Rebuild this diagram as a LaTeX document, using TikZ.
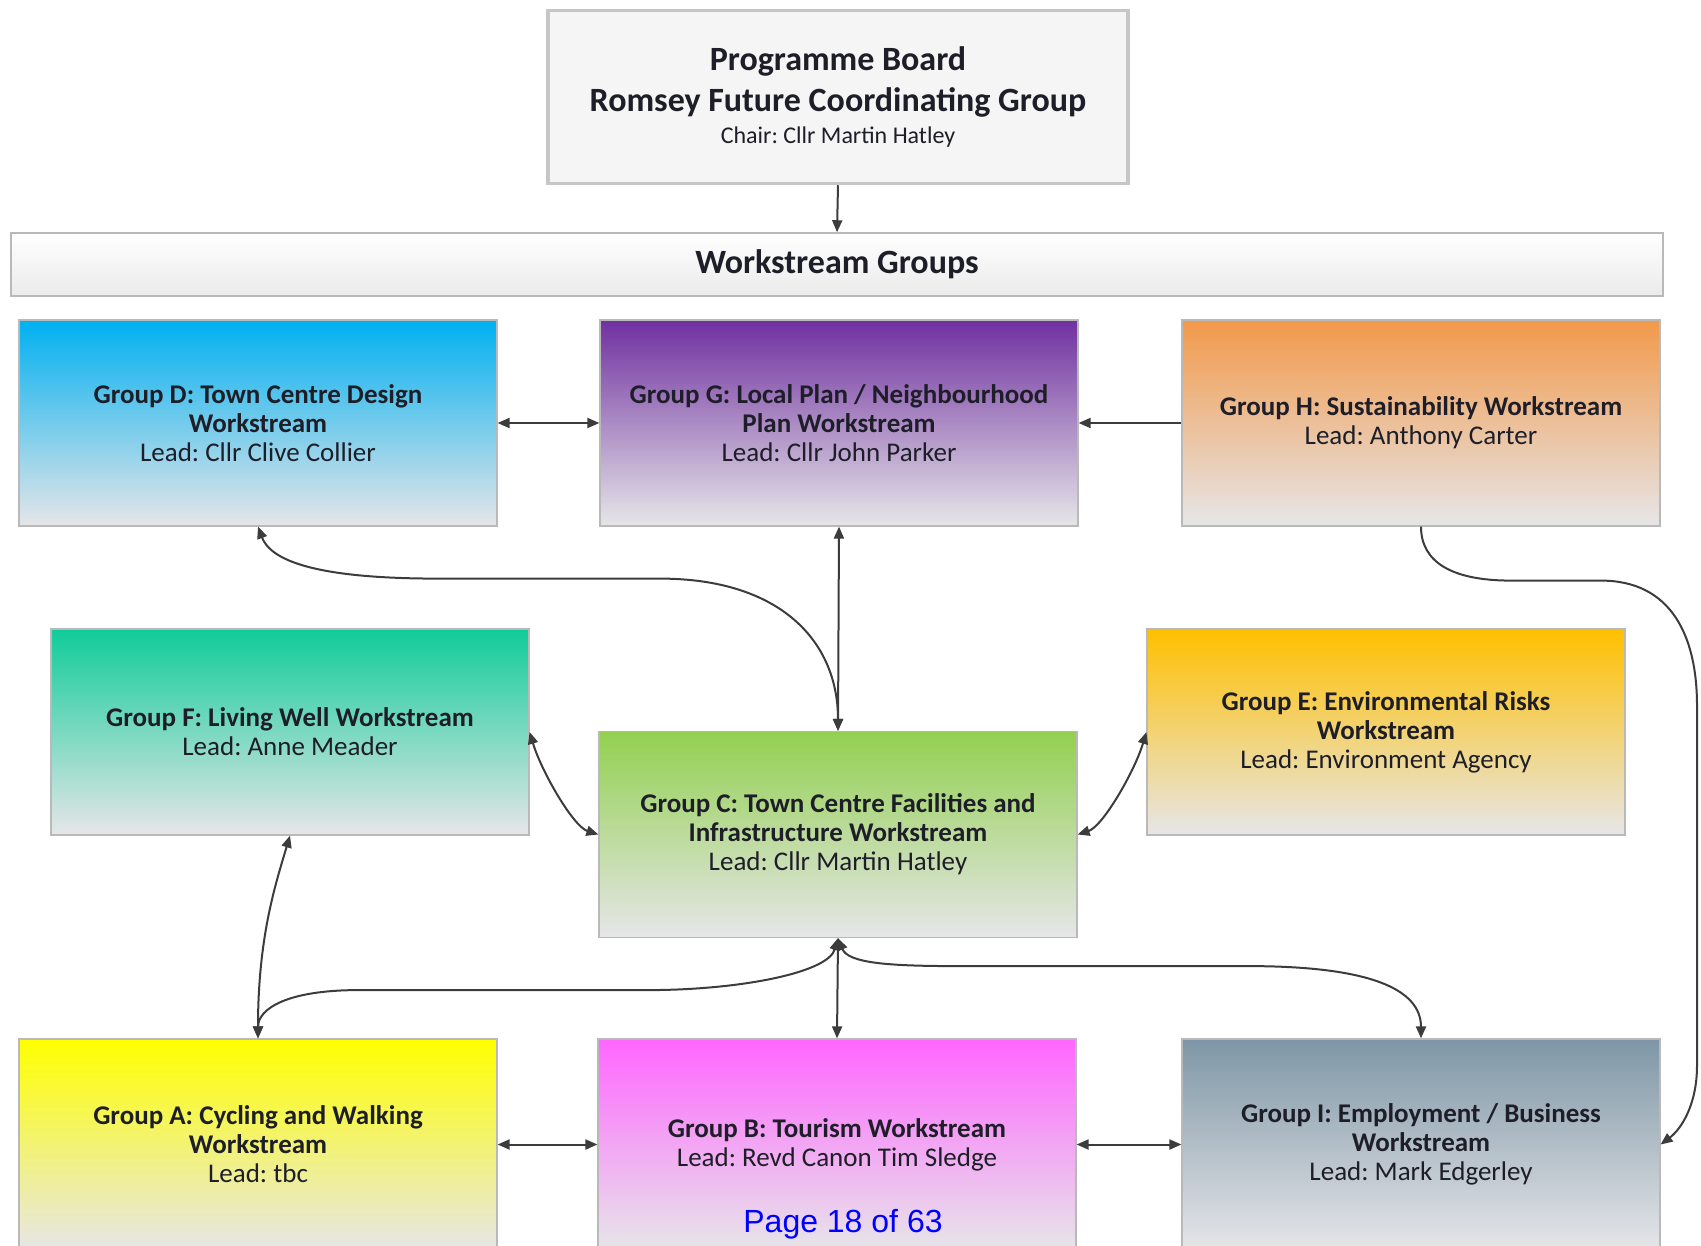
\documentclass[tikz,border=0pt]{standalone}
\usepackage{fontspec}
\setmainfont{Carlito}
\newfontfamily\arialfont{Liberation Sans}
\usetikzlibrary{arrows.meta}
\frenchspacing
\definecolor{txt}{HTML}{1E1E28}
\definecolor{lk}{HTML}{3C3C3C}
\definecolor{cD}{HTML}{00B0F0}
\definecolor{cG}{HTML}{7030A0}
\definecolor{cH}{HTML}{F2994A}
\definecolor{cF}{HTML}{10CC99}
\definecolor{cE}{HTML}{FFC000}
\definecolor{cC}{HTML}{92D050}
\definecolor{cA}{HTML}{FFFF00}
\definecolor{cB}{HTML}{FF66FF}
\definecolor{cI}{HTML}{7E96A6}
\definecolor{botg}{HTML}{E6E6E8}
\definecolor{pageblue}{HTML}{0000FF}
\begin{document}
\begin{tikzpicture}[x=1pt,y=-1pt,
  >={Triangle[length=12pt,width=10pt]},
  grp/.style={rectangle, minimum width=478, minimum height=206, inner sep=0,
    draw=gray!55, line width=1.2, align=center, text=txt,
    font=\fontsize{27}{29}\selectfont},
  grad/.style={top color=#1, bottom color=botg, middle color=#1!50!botg},
  link/.style={draw=lk, line width=2}
]
\useasboundingbox (0,0) rectangle (1701,1246);

% top board
\node[rectangle, minimum width=580, minimum height=173, inner sep=0, draw=gray!45,
  line width=3.5, fill=gray!8, align=center, text=txt] (pb) at (838,97)
  {\fontsize{34}{40}\selectfont\bfseries Programme Board\\[10pt]
   \fontsize{34}{40}\selectfont\bfseries Romsey Future Coordinating Group\\[9pt]
   \fontsize{24}{30}\selectfont Chair: Cllr Martin Hatley};

\node[rectangle, minimum width=1652, minimum height=63, inner sep=0, draw=gray!55,
  line width=1.5, top color=white, bottom color=gray!16, text=txt,
  font=\fontsize{34}{40}\selectfont\bfseries] (bar) at (837,264.5) {Workstream Groups};

% row 1
\node[grp, grad=cD] (D) at (258,423) {\textbf{Group D: Town Centre Design}\\ \textbf{Workstream}\\ Lead: Cllr Clive Collier};
\node[grp, grad=cG] (G) at (839,423) {\textbf{Group G: Local Plan / Neighbourhood}\\ \textbf{Plan Workstream}\\ Lead: Cllr John Parker};
\node[grp, grad=cH] (H) at (1421,423) {\textbf{Group H: Sustainability Workstream}\\ Lead: Anthony Carter};
% row 2
\node[grp, grad=cF] (F) at (290,732) {\textbf{Group F: Living Well Workstream}\\ Lead: Anne Meader};
\node[grp, grad=cC] (C) at (838,834.5) {\textbf{Group C: Town Centre Facilities and}\\ \textbf{Infrastructure Workstream}\\ Lead: Cllr Martin Hatley};
\node[grp, grad=cE] (E) at (1386,732) {\textbf{Group E: Environmental Risks}\\ \textbf{Workstream}\\ Lead: Environment Agency};
% row 3
\node[grp, grad=cA, minimum height=211] (A) at (258,1144.5) {\textbf{Group A: Cycling and Walking}\\ \textbf{Workstream}\\ Lead: tbc};
\node[grp, grad=cB, minimum height=211] (B) at (837,1144.5) {\textbf{Group B: Tourism Workstream}\\ Lead: Revd Canon Tim Sledge};
\node[grp, grad=cI, minimum height=211] (I) at (1421,1144.5) {\textbf{Group I: Employment / Business}\\ \textbf{Workstream}\\ Lead: Mark Edgerley};

\node[font=\arialfont\fontsize{32}{38}\selectfont, text=pageblue] (pg) at (843,1224) {Page 18 of 63};

% connectors
\draw[link,->] (pb.south) -- (bar.north);
\draw[link,<->] (D.east) -- (G.west);
\draw[link,->] (H.west) -- (G.east);
\draw[link,<->] (G.south) -- (C.north);
\draw[link,<->] (D.south) .. controls +(15,40) and +(-100,0) .. ++(180,52)
   -- ++(222,0) .. controls +(120,0) and +(0,-90) .. (C.north);
\draw[link,<->] (F.east) .. controls +(12,40) and +(-25,-8) .. (C.west);
\draw[link,<->] (C.east) .. controls +(25,-8) and +(-12,40) .. (E.west);
\draw[link,<->] (C.south) -- (B.north);
\draw[link,<->] (C.south) .. controls +(-10,35) and +(90,0) .. ++(-190,52)
   -- ++(-290,0) .. controls +(-70,0) and +(0,-30) .. (A.north);
\draw[link,<->] (C.south) .. controls +(10,25) and +(-70,0) .. ++(120,28)
   -- ++(290,0) .. controls +(120,0) and +(0,-50) .. (I.north);
\draw[link,<->] (F.south) .. controls +(-15,50) and +(0,-100) .. (A.north);
\draw[link,<->] (A.east) -- (B.west);
\draw[link,<->] (B.east) -- (I.west);
\draw[link,->] (H.south) .. controls +(0,35) and +(-60,0) .. ++(90,54)
   -- ++(90,0) .. controls +(70,0) and +(0,-70) .. ++(96,125)
   -- ++(0,360) .. controls +(0,40) and +(20,-15) .. (I.east);
\end{tikzpicture}
\end{document}
